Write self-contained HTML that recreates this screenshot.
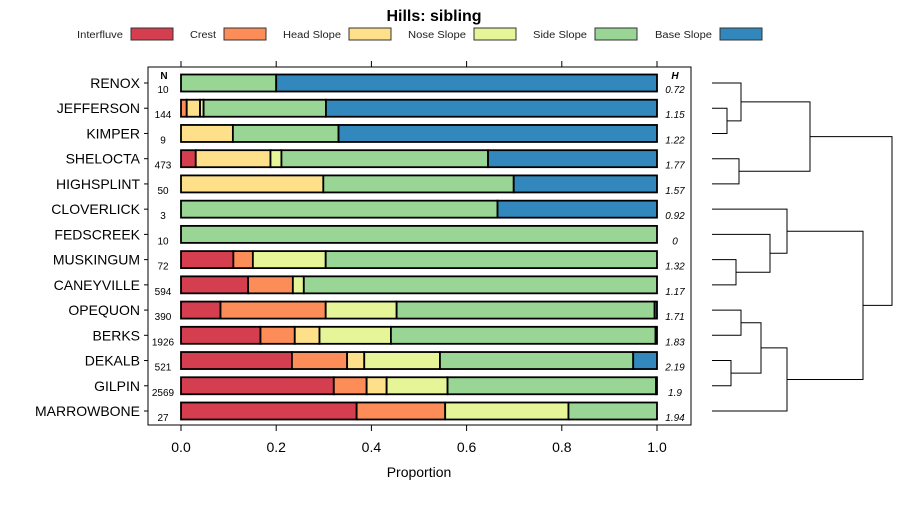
<!DOCTYPE html>
<html><head><meta charset="utf-8"><style>
body{margin:0;background:#fff;}
svg text{font-family:"Liberation Sans",sans-serif;}
</style></head><body>
<svg id="c" width="900" height="500" xmlns="http://www.w3.org/2000/svg"></svg>
<script>
const categories=["RENOX","JEFFERSON","KIMPER","SHELOCTA","HIGHSPLINT","CLOVERLICK","FEDSCREEK","MUSKINGUM","CANEYVILLE","OPEQUON","BERKS","DEKALB","GILPIN","MARROWBONE"];
const nValues=[10,144,9,473,50,3,10,72,594,390,1926,521,2569,27];
const hValues=["0.72","1.15","1.22","1.77","1.57","0.92","0","1.32","1.17","1.71","1.83","2.19","1.9","1.94"];
const seriesNames=["Interfluve","Crest","Head Slope","Nose Slope","Side Slope","Base Slope"];
const interfluve=[0,0,0,0.031,0,0,0,0.11,0.141,0.083,0.167,0.233,0.321,0.369];
const crest=[0,0.012,0,0,0,0,0,0.041,0.094,0.221,0.072,0.116,0.069,0.186];
const headSlope=[0,0.028,0.109,0.157,0.299,0,0,0,0,0,0.052,0.036,0.042,0];
const noseSlope=[0,0.0075,0,0.023,0,0,0,0.153,0.023,0.149,0.15,0.159,0.128,0.259];
const sideSlope=[0.2,0.257,0.222,0.434,0.4,0.665,1,0.696,0.742,0.542,0.556,0.406,0.438,0.186];
const baseSlope=[0.8,0.6955,0.669,0.355,0.301,0.335,0,0,0,0.005,0.003,0.05,0.002,0];
const xTicks=[0,0.2,0.4,0.6,0.8,1.0];
const xTickLabels=["0.0","0.2","0.4","0.6","0.8","1.0"];
// dendrogram merges: [left, right, height]; indices <0 are leaves (-(i+1)), >=0 are prior merges
const merges=[[-2,-3,727],[-1,0,741],[-4,-5,739],[1,2,810],[-8,-9,736],[-7,4,770],[-6,5,787],[-10,-11,741],[-12,-13,731],[7,8,761],[9,-14,787],[6,10,863],[3,11,892]];
const colors=["#D53E4F","#FC8D59","#FEE08B","#E6F598","#99D594","#3288BD"];
const series=[interfluve,crest,headSlope,noseSlope,sideSlope,baseSlope];

const svg=document.getElementById('c');
const NS="http://www.w3.org/2000/svg";
function mk(tag,attrs,text){const e=document.createElementNS(NS,tag);for(const k in attrs)e.setAttribute(k,attrs[k]);if(text!==undefined)e.textContent=text;svg.appendChild(e);return e;}
const xS=v=>181+v*476;
const yS=i=>83+i*(411-83)/13;

let t=mk('text',{x:434,y:21,'text-anchor':'middle','font-size':16,'font-weight':'bold'},'Hills: sibling');



const legText=[77,190,283,408,533,655];
const legLen=[46,26,58,58,54,57];
const legSw=[131,224,349,474,595,720];
seriesNames.forEach((n,i)=>{
  const lt=mk('text',{x:legText[i],y:38,'font-size':10,fill:'#222','textLength':legLen[i],'lengthAdjust':'spacingAndGlyphs'});
  lt.textContent=n;
  
  
  const lr=mk('rect',{x:legSw[i],y:28,width:42,height:12,fill:colors[i],stroke:'#333','stroke-width':1});
  
  
});

const frame=mk('rect',{x:148,y:67,width:543,height:358,fill:'none',stroke:'#000','stroke-width':1});



xTicks.forEach((v,i)=>{
  mk('line',{x1:xS(v),x2:xS(v),y1:61,y2:67,stroke:'#000'});
  mk('line',{x1:xS(v),x2:xS(v),y1:425,y2:431,stroke:'#000'});
  const tl=mk('text',{x:xS(v),y:452,'text-anchor':'middle','font-size':14},xTickLabels[i]);
  
  
});
const xt=mk('text',{x:419,y:477,'text-anchor':'middle','font-size':14},'Proportion');



mk('text',{x:164,y:79,'text-anchor':'middle','font-size':10,'font-weight':'bold'},'N');
mk('text',{x:675,y:79,'text-anchor':'middle','font-size':10,'font-weight':'bold','font-style':'italic'},'H');

categories.forEach((c,i)=>{
  const y=yS(i);
  mk('line',{x1:144,x2:148,y1:y,y2:y,stroke:'#000'});
  const lb=mk('text',{x:140,y:y+5,'text-anchor':'end','font-size':14},c);
  
  
  const nl=mk('text',{x:163,y:y+10,'text-anchor':'middle','font-size':10},nValues[i]);
  
  
  const hl=mk('text',{x:675,y:y+10,'text-anchor':'middle','font-size':10,'font-style':'italic'},hValues[i]);
  
  
  let cum=0;
  series.forEach((s,k)=>{
    const v=s[i];
    if(v>0){
      const r=mk('rect',{x:xS(cum),y:y-8.5,width:xS(cum+v)-xS(cum),height:17,fill:colors[k],stroke:'#000','stroke-width':1.8});
      
      
    }
    cum+=v;
  });
});

// dendrogram
const leafX=712;
const nodes=[];
function pos(idx){ if(idx<0) return {x:leafX,y:yS(-idx-1)}; return nodes[idx]; }
merges.forEach(m=>{
  const a=pos(m[0]),b=pos(m[1]),h=m[2];
  const p=mk('path',{d:`M${a.x},${a.y}H${h}V${b.y}H${b.x}`,fill:'none',stroke:'#000','stroke-width':1});
  
  
  nodes.push({x:h,y:(a.y+b.y)/2});
});
</script>
</body></html>
